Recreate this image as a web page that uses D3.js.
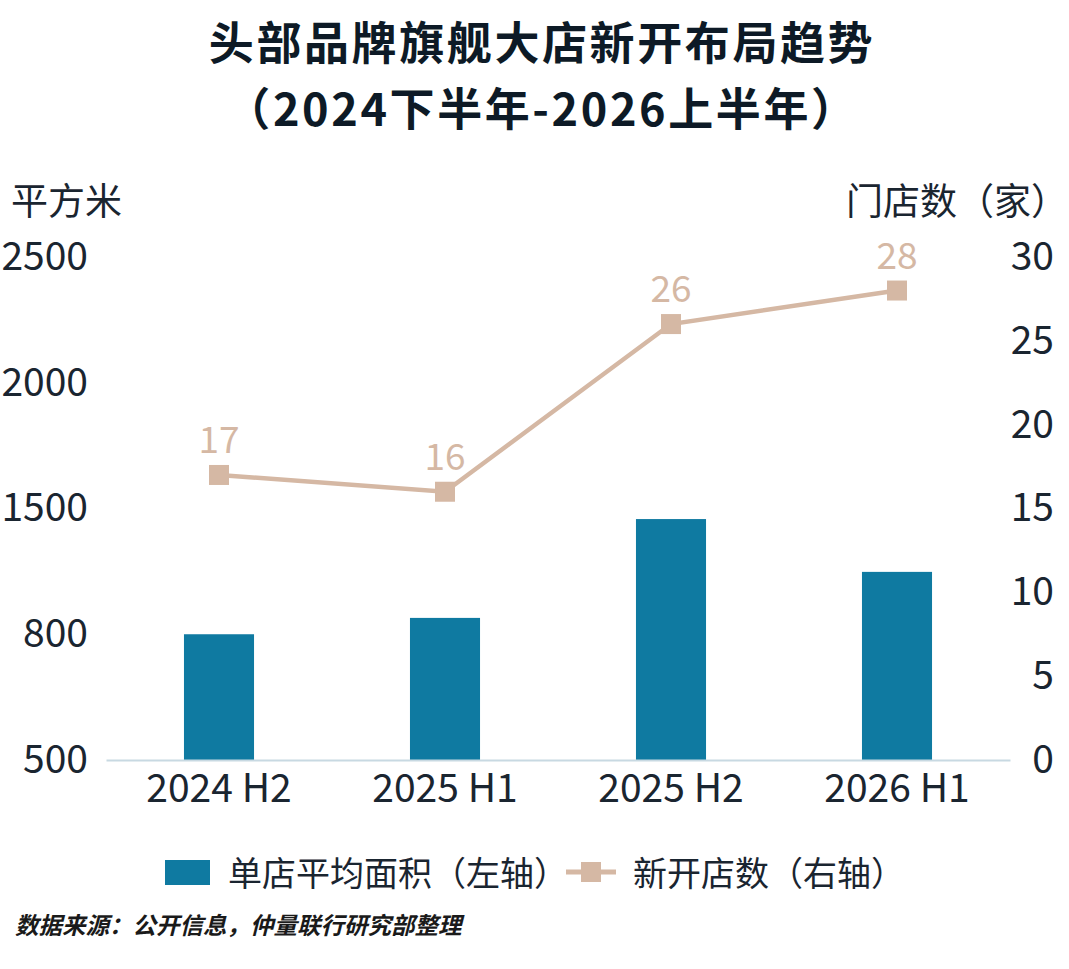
<!DOCTYPE html>
<html><head><meta charset="utf-8">
<script src="https://cdn.jsdelivr.net/npm/d3@7"></script>
<style>
html,body{margin:0;padding:0;background:#fff;}
svg{display:block;font-family:"Noto Sans CJK SC","Noto Sans",sans-serif;}
</style></head>
<body><svg id="c" width="1069" height="969"></svg>
<script>
const categories = ["2024 H2","2025 H1","2025 H2","2026 H1"];
const areaValues = [1000,1065,1458,1248];
const storeCounts = [17,16,26,28];
const leftTickValues = [500,1000,1500,2000,2500];
const leftTickLabels = ["500","800","1500","2000","2500"];
const rightTickValues = [0,5,10,15,20,25,30];
const titleLines = ["头部品牌旗舰大店新开布局趋势","（2024下半年-2026上半年）"];
const leftAxisTitle = "平方米";
const rightAxisTitle = "门店数（家）";
const legendLabels = ["单店平均面积（左轴）","新开店数（右轴）"];
const sourceText = "数据来源：公开信息，仲量联行研究部整理";

const barColor = "#0f7aa1", lineColor = "#d5b8a4", textColor = "#1a2530", axisColor = "#c8d9e2";
const svg = d3.select("#c");
const m = {left:106, right:1010, top:257, bottom:760};

const x = d3.scaleBand().domain(categories).range([m.left,m.right]).paddingInner(0.69).paddingOuter(0.345);
const yL = d3.scaleLinear().domain([500,2500]).range([m.bottom,m.top]);
const yR = d3.scaleLinear().domain([0,30]).range([m.bottom,m.top]);

// title
svg.selectAll("text.title").data(titleLines).join("text")
  .attr("x",542).attr("y",(d,i)=>60+i*66).attr("text-anchor","middle")
  .attr("font-size",45).attr("letter-spacing",2.6).attr("font-weight",700).attr("fill","#0d1a26").text(d=>d);

// axis titles
svg.append("text").attr("x",11).attr("y",215).attr("font-size",37).attr("fill",textColor).text(leftAxisTitle);
svg.append("text").attr("x",846).attr("y",215).attr("font-size",37).attr("fill",textColor).text(rightAxisTitle);

// left axis
const gl = svg.append("g").attr("transform",`translate(${m.left-15},0)`)
  .call(d3.axisLeft(yL).tickValues(leftTickValues).tickFormat((d,i)=>leftTickLabels[i]).tickSize(0));
gl.select(".domain").remove();
gl.selectAll("text").attr("font-size",39).attr("fill",textColor).attr("font-family","Noto Sans CJK SC").attr("dx",0);

// right axis
const gr = svg.append("g").attr("transform",`translate(${1054},0)`)
  .call(d3.axisLeft(yR).tickValues(rightTickValues).tickSize(0));
gr.select(".domain").remove();
gr.selectAll("text").attr("font-size",39).attr("fill",textColor).attr("font-family","Noto Sans CJK SC").attr("x",0);

// bars
svg.selectAll("rect.bar").data(areaValues).join("rect").attr("class","bar")
  .attr("x",(d,i)=>x(categories[i])).attr("width",x.bandwidth())
  .attr("y",d=>yL(d)).attr("height",d=>yL(500)-yL(d)).attr("fill",barColor);

// x axis
const gx = svg.append("g").attr("transform",`translate(0,${m.bottom})`)
  .call(d3.axisBottom(x).tickSize(0).tickPadding(14));
gx.select(".domain").attr("stroke",axisColor).attr("stroke-width",2);
gx.selectAll("text").attr("font-size",39).attr("fill",textColor).attr("font-family","Noto Sans CJK SC");

// line
const cx = (i)=>x(categories[i])+x.bandwidth()/2;
const line = d3.line().x((d,i)=>cx(i)).y(d=>yR(d));
svg.append("path").datum(storeCounts).attr("d",line).attr("fill","none").attr("stroke",lineColor).attr("stroke-width",4.5);
svg.selectAll("rect.mk").data(storeCounts).join("rect").attr("class","mk")
  .attr("x",(d,i)=>cx(i)-10).attr("y",d=>yR(d)-10).attr("width",20).attr("height",20).attr("fill",lineColor);
svg.selectAll("text.val").data(storeCounts).join("text").attr("class","val")
  .attr("x",(d,i)=>cx(i)).attr("y",d=>yR(d)-22).attr("text-anchor","middle")
  .attr("font-size",37).attr("fill",lineColor).text(d=>d);

// legend
const lg = svg.append("g");
lg.append("rect").attr("x",165).attr("y",860).attr("width",45).attr("height",25).attr("fill",barColor);
lg.append("text").attr("x",228).attr("y",886).attr("font-size",34).attr("fill",textColor).text(legendLabels[0]);
lg.append("line").attr("x1",566).attr("x2",616).attr("y1",872).attr("y2",872).attr("stroke",lineColor).attr("stroke-width",5);
lg.append("rect").attr("x",581).attr("y",862).attr("width",20).attr("height",20).attr("fill",lineColor);
lg.append("text").attr("x",633).attr("y",886).attr("font-size",34).attr("fill",textColor).text(legendLabels[1]);

// source
svg.append("text").attr("x",15).attr("y",934).attr("font-size",23.5).attr("font-weight",700)
  .attr("font-style","italic").attr("fill","#1a1a1a").text(sourceText);
</script></body></html>
